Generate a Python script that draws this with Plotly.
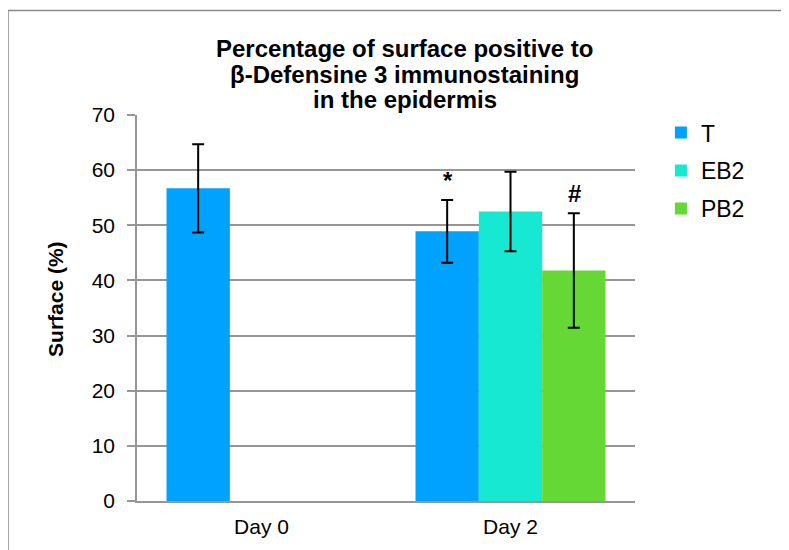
import plotly.graph_objects as go

categories = ["Day 0", "Day 2"]
series_names = ["T", "EB2", "PB2"]
values_T = [56.7, 48.9]
values_EB2 = [None, 52.5]
values_PB2 = [None, 41.8]
err_T = [8.0, 5.7]
err_EB2 = [None, 7.2]
err_PB2 = [None, 10.4]
colors = ["#00a2ff", "#17e8d2", "#65d836"]
y_ticks = [0, 10, 20, 30, 40, 50, 60, 70]
title_lines = ["Percentage of surface positive to", "β-Defensine 3 immunostaining", "in the epidermis"]
marks = [("*", "Day 2", -63, values_T[1] + err_T[1]), ("#", "Day 2", 64, values_PB2[1] + err_PB2[1])]

FONT = "Liberation Sans, Arial, sans-serif"

fig = go.Figure()
for i, (name, vals, errs) in enumerate(zip(series_names, [values_T, values_EB2, values_PB2], [err_T, err_EB2, err_PB2])):
    fig.add_trace(go.Bar(
        x=categories, y=vals, name=name, legendgroup=name,
        marker=dict(color=colors[i], line=dict(width=0)),
        error_y=dict(type="data", array=errs, visible=True, color="black", thickness=2, width=6),
    ))

annotations = []
line_y = [1.173, 1.106, 1.040]
for txt, yy in zip(title_lines, line_y):
    annotations.append(dict(text="<b>%s</b>" % txt, xref="paper", yref="paper", x=0.538, y=yy,
                            xanchor="center", yanchor="middle", showarrow=False,
                            font=dict(family=FONT, size=24, color="black")))
annotations.append(dict(text="<b>Surface (%)</b>", xref="paper", yref="paper", x=-0.165, y=0.523,
                        xanchor="center", yanchor="middle", textangle=-90, showarrow=False,
                        font=dict(family=FONT, size=21, color="black")))
for sym, cat, shift, top in marks:
    annotations.append(dict(text="<b>%s</b>" % sym, x=cat, y=top, xref="x", yref="y", xshift=shift,
                            yanchor="bottom", yshift=4, showarrow=False,
                            font=dict(family=FONT, size=24, color="black")))

fig.update_layout(
    width=781, height=542,
    margin=dict(l=129, r=154, t=107, b=47),
    paper_bgcolor="white", plot_bgcolor="white",
    barmode="group", bargap=0.237, bargroupgap=0,
    font=dict(family=FONT, size=21, color="black"),
    showlegend=True,
    legend=dict(x=1.052, y=1.010, xanchor="left", yanchor="top", traceorder="grouped",
                tracegroupgap=5, font=dict(family=FONT, size=23, color="black"),
                bgcolor="rgba(0,0,0,0)", itemwidth=30),
    annotations=annotations,
    shapes=[dict(type="rect", xref="paper", yref="paper", x0=-0.259, x1=1.4, y0=-0.2, y1=1.2706,
                 line=dict(color="#8a8a8a", width=1.5), fillcolor="rgba(0,0,0,0)", layer="below")],
)
fig.update_yaxes(range=[0, 70], tickvals=y_ticks, showgrid=True, gridcolor="#969696", gridwidth=1.5,
                 showline=True, linecolor="#969696", linewidth=1.5, ticks="outside", ticklen=8,
                 tickcolor="#969696", tickwidth=1.5, ticklabelstandoff=8, zeroline=False,
                 tickfont=dict(family=FONT, size=21, color="black"))
fig.update_xaxes(showline=True, linecolor="#969696", linewidth=1.5, ticks="", ticklabelstandoff=6,
                 tickfont=dict(family=FONT, size=21, color="black"))

fig.write_html("out.html")
